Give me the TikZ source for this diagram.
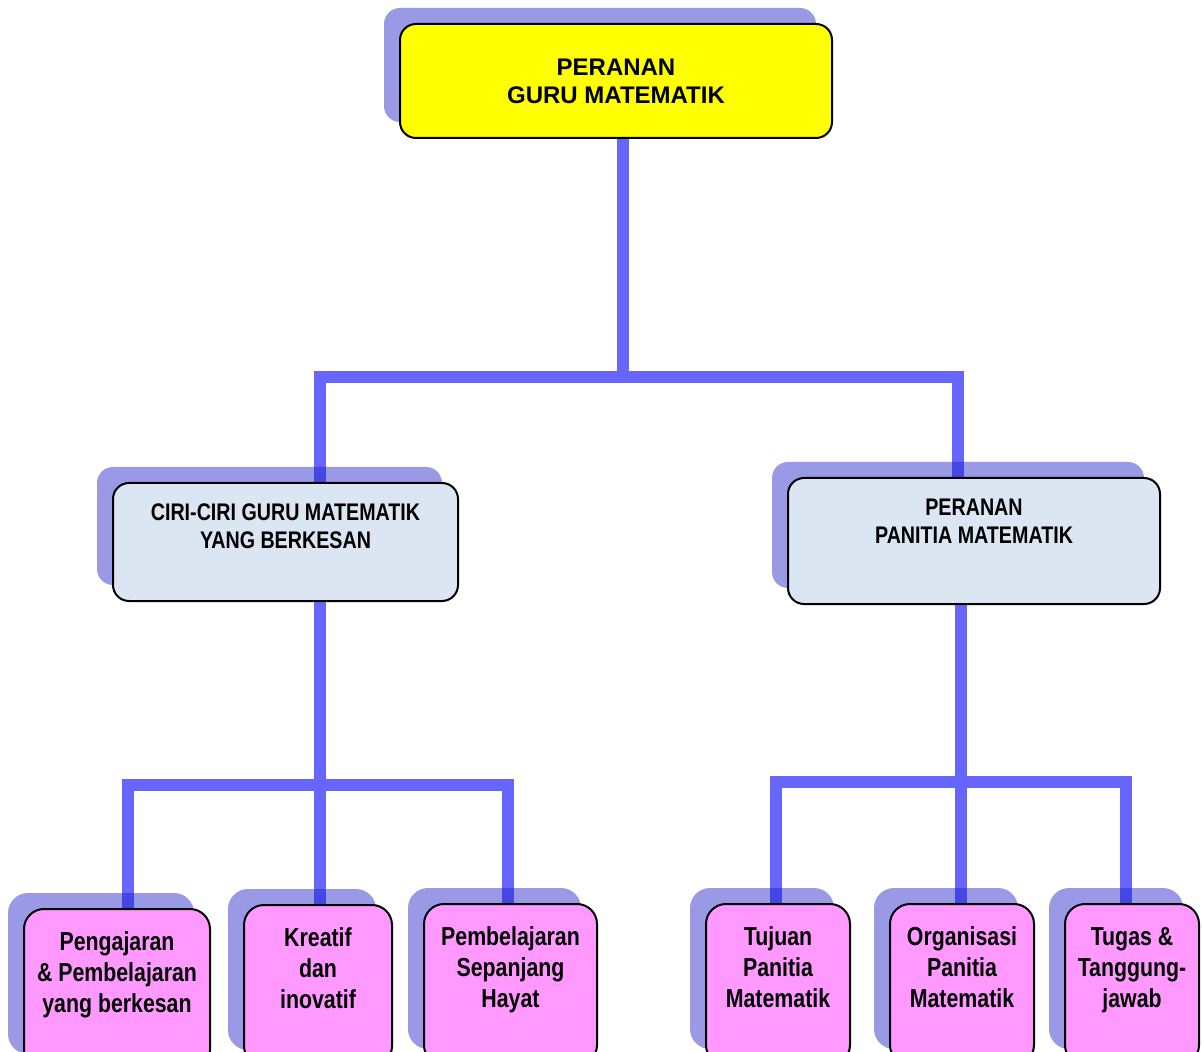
\documentclass[tikz,border=0pt]{standalone}
\usepackage{fontspec}
\setmainfont{Liberation Sans}
\newfontfamily\narrowsans[FakeStretch=0.82]{Liberation Sans}
\usetikzlibrary{shadows,backgrounds}
\definecolor{rolegold}{RGB}{255,255,0}
\definecolor{ciriblue}{RGB}{220,230,242}
\definecolor{leafpink}{RGB}{255,153,255}
\definecolor{linkblue}{RGB}{102,102,255}
\definecolor{shadeblue}{RGB}{33,33,200}

\begin{document}
\begin{tikzpicture}[x=0.5pt,y=-0.5pt,
    box/.style={draw=black,line width=1pt,align=center,inner xsep=2pt,
      drop shadow={shadow xshift=-8pt,shadow yshift=8pt,fill=shadeblue,opacity=0.46}},
    rolebox/.style={box,fill=rolegold,rounded corners=8pt,
      minimum width=216pt,minimum height=57pt,
      font=\bfseries\fontsize{12}{14}\selectfont},
    midbox/.style={box,fill=ciriblue,rounded corners=8pt,anchor=north,
      inner ysep=0pt,text height=33pt,
      font=\narrowsans\bfseries\fontsize{12}{14}\selectfont},
    leafbox/.style={box,fill=leafpink,rounded corners=10pt,anchor=north,
      inner ysep=0pt,text height=51.5pt,text depth=29pt,
      font=\narrowsans\bfseries\fontsize{13}{15.5}\selectfont},
    link/.style={draw=linkblue,line width=6pt}]
  \useasboundingbox (0,0) rectangle (1203,1052);
  \clip (0,0) rectangle (1203,1052);

  % boxes
  \node[rolebox] (top) at (616,81) {PERANAN\\GURU MATEMATIK};
  \node[midbox,minimum width=172.5pt,text depth=26pt] (ciri) at (285.5,482)
    {CIRI-CIRI GURU MATEMATIK\\YANG BERKESAN};
  \node[midbox,minimum width=186pt,text depth=30pt] (panitia) at (974,477)
    {PERANAN\\PANITIA MATEMATIK};

  \node[leafbox,minimum width=93pt] (b1) at (117,908)
    {Pengajaran\\\& Pembelajaran\\yang berkesan};
  \node[leafbox,minimum width=74pt] (b2) at (318,904) {Kreatif\\dan\\inovatif};
  \node[leafbox,minimum width=86.5pt] (b3) at (510.5,903)
    {Pembelajaran\\Sepanjang\\Hayat};
  \node[leafbox,minimum width=72pt] (b4) at (778,903)
    {Tujuan\\Panitia\\Matematik};
  \node[leafbox,minimum width=72pt] (b5) at (962,903)
    {Organisasi\\Panitia\\Matematik};
  \node[leafbox,minimum width=67pt] (b6) at (1132,903)
    {Tugas \&\\Tanggung-\\jawab};

  % connectors
  \coordinate (hubtop) at (623,377);
  \coordinate (hubL) at (320,377);
  \coordinate (hubR) at (958,377);
  \coordinate (busL) at (320,785);
  \coordinate (busL1) at (128,785);
  \coordinate (busL3) at (508,785);
  \coordinate (busR) at (961,782);
  \coordinate (busR1) at (776,782);
  \coordinate (busR3) at (1126,782);
  \begin{scope}[on background layer]
    \draw[link] (top.south -| hubtop) -- (hubtop);
    \draw[link] (ciri.north -| hubL) -- (hubL) -- (hubR) -- (panitia.north -| hubR);
    \draw[link] (ciri.south -| busL) -- (busL);
    \draw[link] (b1.north -| busL1) -- (busL1) -- (busL3) -- (b3.north -| busL3);
    \draw[link] (b2.north -| busL) -- (busL);
    \draw[link] (panitia.south -| busR) -- (busR);
    \draw[link] (b4.north -| busR1) -- (busR1) -- (busR3) -- (b6.north -| busR3);
    \draw[link] (b5.north -| busR) -- (busR);
  \end{scope}
\end{tikzpicture}
\end{document}
